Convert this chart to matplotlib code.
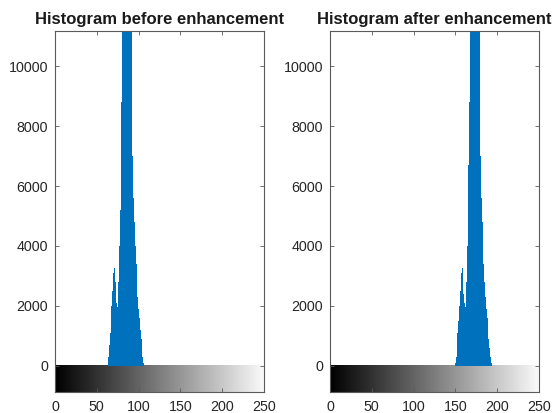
import numpy as np
import matplotlib
matplotlib.use("Agg")
import matplotlib.pyplot as plt

plt.rcParams['font.family'] = ['Liberation Sans', 'DejaVu Sans']

titles = ["Histogram before enhancement", "Histogram after enhancement"]

bins_before = list(range(63, 108))
counts_before = [100, 300, 700, 1100, 1500, 2000, 2500, 3100, 3250, 2800,
                 2400, 2100, 1960, 2800, 4000, 5200, 6700, 8800, 11500, 13500,
                 15500, 17000, 18000, 18500, 18000, 17000, 16000, 14500, 12500, 11300,
                 7000, 5600, 4800, 4000, 3400, 2800, 2300, 1900, 1600, 1200,
                 900, 600, 300, 100, 0]

bins_after = list(range(150, 195))
counts_after = [100, 300, 700, 1100, 1500, 2000, 2500, 3100, 3250, 2800,
                2400, 2100, 1960, 2800, 4000, 5200, 6700, 8800, 11500, 13500,
                15500, 17000, 18000, 18500, 18000, 17000, 16000, 14500, 12500, 11300,
                7000, 5600, 4800, 4000, 3400, 2800, 2300, 1900, 1600, 1200,
                900, 600, 300, 100, 0]

xticks = [0, 50, 100, 150, 200, 250]
yticks = [0, 2000, 4000, 6000, 8000, 10000]
xlim = (0, 250)
ylim = (-870, 11170)

fig = plt.figure(figsize=(5.53, 4.13), dpi=100)
positions = [[55/553, 1-392/413, 209/553, 361/413],
             [330/553, 1-392/413, 209/553, 361/413]]

frame_col = '#5a5a5a'
blue = '#0072BD'
for pos, title, bins, counts in zip(positions, titles,
                                    [bins_before, bins_after],
                                    [counts_before, counts_after]):
    ax = fig.add_axes(pos)
    grad = np.linspace(0, 1, 256).reshape(1, -1)
    ax.imshow(grad, cmap='gray', aspect='auto', extent=[0, 255, ylim[0], 0],
              vmin=0, vmax=1, interpolation='bilinear', zorder=1)
    ax.fill_between(bins, counts, 0, step='mid', color=blue, linewidth=0,
                    zorder=2)
    ax.set_xlim(*xlim)
    ax.set_ylim(*ylim)
    ax.set_xticks(xticks)
    ax.set_yticks(yticks)
    ax.tick_params(direction='in', top=True, right=True, length=3, width=0.6,
                   color=frame_col, labelsize=10.3, labelcolor='#262626')
    ax.tick_params(axis='x', pad=6)
    ax.tick_params(axis='y', pad=5)
    for s in ax.spines.values():
        s.set_color(frame_col)
        s.set_linewidth(0.8)
        s.set_zorder(5)
    ax.set_title(title, fontsize=12, fontweight='bold', color='#1a1a1a', pad=5)

fig.savefig("out.png", dpi=100)
